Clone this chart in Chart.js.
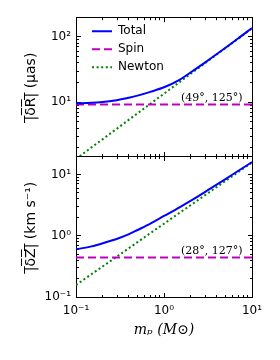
<!DOCTYPE html>
<html>
<head>
<meta charset="utf-8">
<script src="https://cdn.jsdelivr.net/npm/chart.js@4.4.1/dist/chart.umd.min.js"></script>
<style>
  html, body { margin: 0; padding: 0; background: #fff; }
  #wrap { position: relative; width: 280px; height: 360px; }
  canvas { position: absolute; left: 0; top: 0; }
</style>
</head>
<body>
<div id="wrap">
  <canvas id="topPanel" width="280" height="360"></canvas>
  <canvas id="bottomPanel" width="280" height="360"></canvas>
</div>
<script>
// planet mass m_p (M_sun)
const massX = [0.1, 0.15, 0.2, 0.3, 0.4, 0.5, 0.7, 1, 1.5, 2, 3, 5, 7, 10];

// top panel, |dR| in micro-arcsec
const totalR  = [9.6, 9.8, 10.1, 10.8, 11.7, 12.6, 14.4, 16.9, 22, 28.5, 41.5, 68, 95, 137];
const spinR   = [9.2, 9.2, 9.2, 9.2, 9.2, 9.2, 9.2, 9.2, 9.2, 9.2, 9.2, 9.2, 9.2, 9.2];
const newtonR = [1.35, 2.03, 2.7, 4.05, 5.4, 6.75, 9.45, 13.5, 20.3, 27, 40.5, 67.5, 94.5, 135];

// bottom panel, |dZ| in km/s
const totalZ  = [0.6, 0.67, 0.75, 0.9, 1.06, 1.24, 1.58, 2.1, 2.9, 3.7, 5.3, 8.4, 11.5, 15.9];
const spinZ   = [0.44, 0.44, 0.44, 0.44, 0.44, 0.44, 0.44, 0.44, 0.44, 0.44, 0.44, 0.44, 0.44, 0.44];
const newtonZ = [0.157, 0.236, 0.314, 0.471, 0.628, 0.785, 1.1, 1.57, 2.36, 3.14, 4.71, 7.85, 11.0, 15.7];

const seriesNames = ["Total", "Spin", "Newton"];

const xMajor = [0.1, 1, 10];
const xMajorLabels = ["10\u207B\u00B9", "10\u2070", "10\u00B9"];
const rMajor = [10, 100];
const rMajorLabels = ["10\u00B9", "10\u00B2"];
const zMajor = [0.1, 1, 10];
const zMajorLabels = ["10\u207B\u00B9", "10\u2070", "10\u00B9"];

const noteR = "(49\u00B0, 125\u00B0)";
const noteZ = "(28\u00B0, 127\u00B0)";

Chart.defaults.font.family = "'DejaVu Sans'";
Chart.defaults.color = "#000";
Chart.defaults.animation = false;

const styles = [
  { color: "#0000ff", width: 2, dash: [] },
  { color: "#bf00bf", width: 2, dash: [8, 4] },
  { color: "#008000", width: 2, dash: [2, 2.6] },
];

function logTicks(min, max) {
  const out = [];
  for (let e = Math.floor(Math.log10(min)); e <= Math.ceil(Math.log10(max)); e++) {
    for (let k = 1; k <= 9; k++) {
      const v = +(k * Math.pow(10, e)).toPrecision(6);
      if (v >= min * 0.9999 && v <= max * 1.0001) out.push({ value: v, major: k === 1 });
    }
  }
  return out;
}

// ticks point inwards; minor ticks are cut short with a dash
function axis(pos, min, max, o) {
  const horiz = pos === "top" || pos === "bottom";
  const startsInside = pos === "left" || pos === "top";
  const tl = startsInside ? -5 : -4;
  const minorDash = startsInside ? [0, 2, 3, 0] : [3, 10];
  return {
    type: "logarithmic",
    axis: horiz ? "x" : "y",
    position: pos,
    min: min,
    max: max,
    afterBuildTicks: s => { s.ticks = logTicks(min, max); },
    afterFit: s => { if (horiz) s.height = o.size; else s.width = o.size; },
    border: { display: true, color: "#000", width: 1 },
    grid: {
      display: true,
      drawOnChartArea: false,
      tickLength: tl,
      tickColor: "#000",
      tickWidth: 1,
      tickBorderDash: ctx => (ctx.tick && ctx.tick.major ? [] : minorDash),
    },
    ticks: {
      display: !!o.labels,
      autoSkip: false,
      maxRotation: 0,
      padding: o.pad || 0,
      font: { size: 12 },
      callback: v => {
        if (!o.labels) return "";
        const i = o.majors.findIndex(m => Math.abs(m - v) / m < 1e-6);
        return i >= 0 ? o.labels[i] : "";
      },
    },
    title: o.title ? o.title : { display: false },
  };
}

function datasets(series) {
  return seriesNames.map((name, i) => ({
    label: name,
    data: massX.map((m, j) => ({ x: m, y: series[i][j] })),
    borderColor: styles[i].color,
    backgroundColor: styles[i].color,
    borderWidth: styles[i].width,
    borderDash: styles[i].dash,
    pointRadius: 0,
    fill: false,
    cubicInterpolationMode: "monotone",
  }));
}

function notePlugin(text, xVal, yVal) {
  return {
    id: "note",
    afterDatasetsDraw(chart) {
      const c = chart.ctx;
      c.save();
      c.font = "11px 'DejaVu Serif'";
      c.fillStyle = "#000";
      c.textAlign = "right";
      c.textBaseline = "middle";
      c.fillText(text, chart.scales.x.getPixelForValue(xVal), chart.scales.y.getPixelForValue(yVal));
      c.restore();
    },
  };
}

// put the legend box in the upper left corner of the plot
const legendShift = {
  id: "legendShift",
  afterLayout(chart) {
    const lg = chart.legend;
    if (lg && lg.options.display) {
      lg.left = chart.chartArea.left + 10;
      lg.top = chart.chartArea.top + 2;
    }
  },
};

const yTitleFont = { size: 14 };

new Chart(document.getElementById("topPanel"), {
  type: "line",
  data: { datasets: datasets([totalR, spinR, newtonR]) },
  options: {
    responsive: false,
    devicePixelRatio: 1,
    layout: { padding: { left: 0, top: 14, right: 28, bottom: 204 } },
    scales: {
      x: axis("bottom", 0.1, 10, { size: 0 }),
      xTop: axis("top", 0.1, 10, { size: 0 }),
      y: axis("left", 1.5, 200, {
        size: 76, labels: rMajorLabels, majors: rMajor, pad: 10,
        title: { display: true, text: "|\u0305\u03B4\u0305R\u0305|\u0305 (\u03BCas)", font: yTitleFont, padding: { top: 23, bottom: 0 } },
      }),
      yRight: axis("right", 1.5, 200, { size: 0 }),
    },
    plugins: {
      legend: {
        position: "chartArea",
        align: "start",
        labels: {
          usePointStyle: true,
          pointStyle: "line",
          pointStyleWidth: 20,
          padding: 6,
          font: { size: 12 },
          color: "#000",
          generateLabels: chart => {
            const items = Chart.defaults.plugins.legend.labels.generateLabels(chart);
            return items.map((it, i) => ({
              ...it,
              strokeStyle: styles[i].color,
              fillStyle: styles[i].color,
              lineWidth: styles[i].width,
              lineDash: styles[i].dash,
            }));
          },
        },
      },
      tooltip: { enabled: false },
    },
  },
  plugins: [notePlugin(noteR, 7.8, 11.6), legendShift],
});

new Chart(document.getElementById("bottomPanel"), {
  type: "line",
  data: { datasets: datasets([totalZ, spinZ, newtonZ]) },
  options: {
    responsive: false,
    devicePixelRatio: 1,
    layout: { padding: { left: 0, top: 156, right: 28, bottom: 18 } },
    scales: {
      x: axis("bottom", 0.1, 10, {
        size: 45, labels: xMajorLabels, majors: xMajor, pad: 11,
        title: { display: true, text: "m\u209A (M\u2299)", font: { family: "'DejaVu Serif'", size: 14, style: "italic" }, padding: { top: 0, bottom: 3 } },
      }),
      xTop: axis("top", 0.1, 10, { size: 0 }),
      y: axis("left", 0.1, 20, {
        size: 76, labels: zMajorLabels, majors: zMajor, pad: 10,
        title: { display: true, text: "|\u0305\u03B4\u0305Z\u0305|\u0305 (km s\u207B\u00B9)", font: yTitleFont, padding: { top: 23, bottom: 0 } },
      }),
      yRight: axis("right", 0.1, 20, { size: 0 }),
    },
    plugins: {
      legend: { display: false },
      tooltip: { enabled: false },
    },
  },
  plugins: [notePlugin(noteZ, 7.8, 0.568)],
});
</script>
</body>
</html>
